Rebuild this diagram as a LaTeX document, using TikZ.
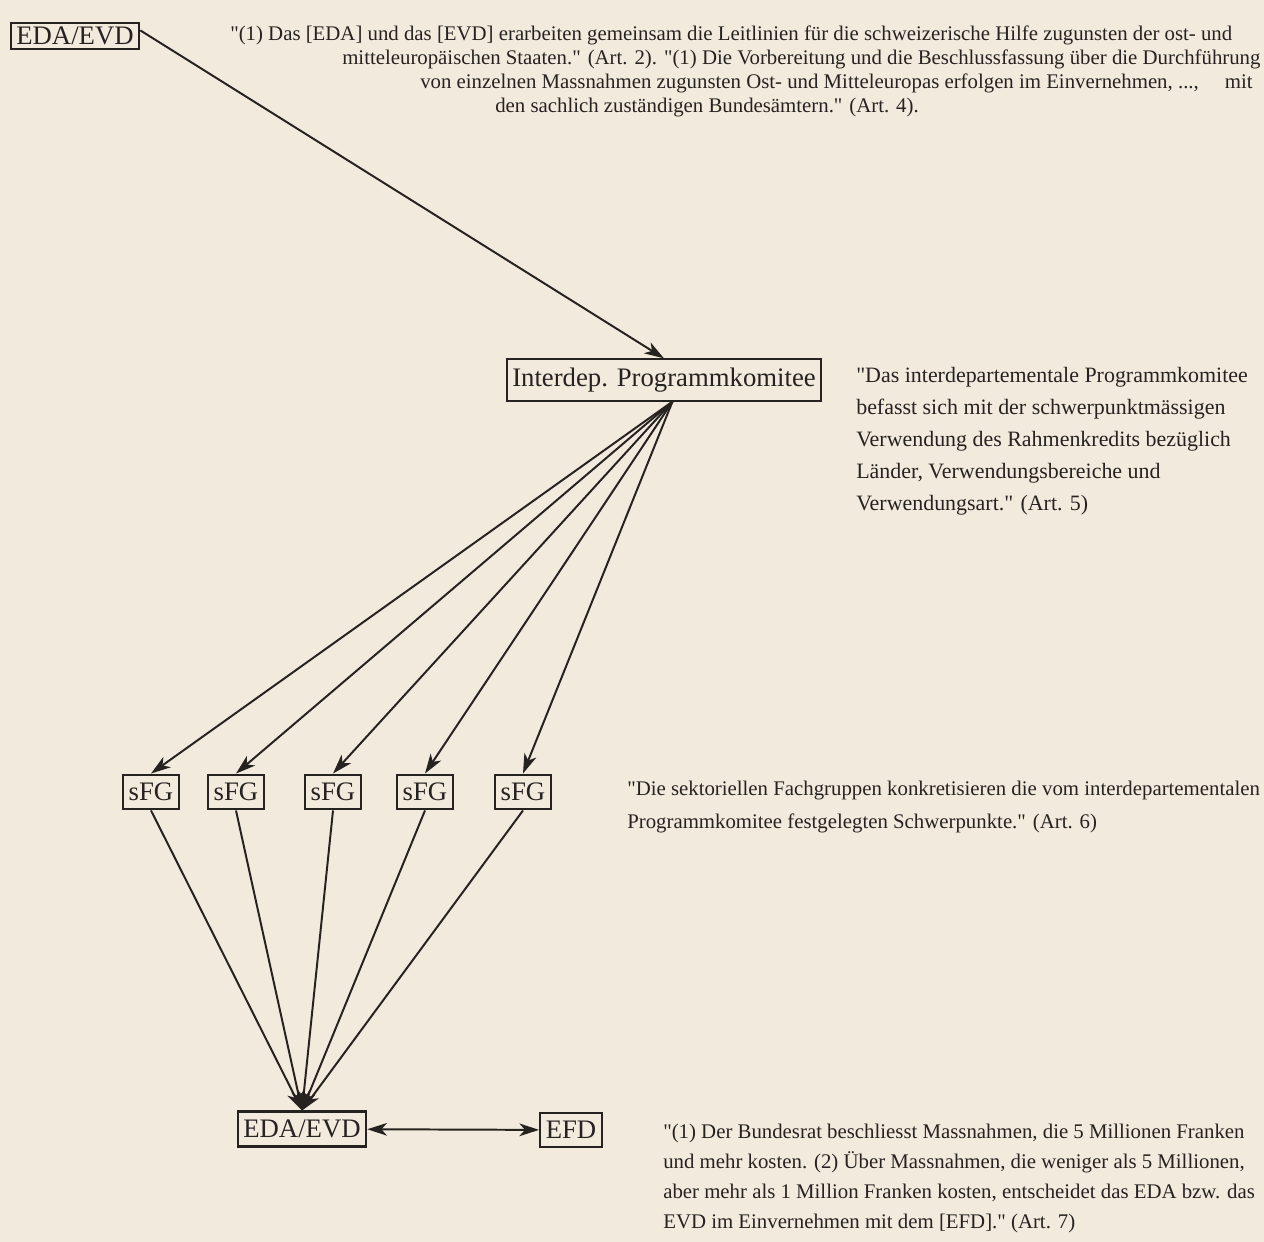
\documentclass[tikz,border=0pt]{standalone}
\usepackage{fontspec}
\setmainfont{Liberation Serif}
\usetikzlibrary{arrows.meta,positioning}
\definecolor{paper}{RGB}{241,234,221}
\definecolor{ink}{RGB}{38,34,32}

\begin{document}
\begin{tikzpicture}[
  x=0.025cm, y=-0.025cm,
  every node/.style={text=ink},
  orgbox/.style={draw=ink,line width=1.5pt,inner xsep=4pt,inner ysep=6pt,
                 font=\fontsize{19}{21}\selectfont},
  quote/.style={align=left,inner sep=0pt,anchor=north west},
  link/.style={-{Stealth[length=14pt,width=9pt,inset=4pt]},ink,line width=1.4pt},
]
  % paper
  \fill[paper] (0,0) rectangle (1264,1242);
  \useasboundingbox (0,0) rectangle (1264,1242);

  % Top: EDA/EVD
  \node[orgbox,inner ysep=3pt] (eda1) at (75,36) {EDA/EVD};
  \node[quote,anchor=base west,font=\fontsize{14.8}{17}\selectfont] (art2a) at (230,41)
    {\textquotedbl(1) Das [EDA] und das [EVD] erarbeiten gemeinsam die Leitlinien für die schweizerische Hilfe zugunsten der ost- und};
  \node[quote,anchor=base west,font=\fontsize{14.8}{17}\selectfont] (art2b) at (342,65)
    {mitteleuropäischen Staaten.\textquotedbl{} (Art. 2). \textquotedbl(1) Die Vorbereitung und die Beschlussfassung über die Durchführung};
  \node[quote,anchor=base west,font=\fontsize{14.8}{17}\selectfont] (art2c) at (420,89)
    {von einzelnen Massnahmen zugunsten Ost- und Mitteleuropas erfolgen im Einvernehmen, ..., \quad mit};
  \node[quote,anchor=base west,font=\fontsize{14.8}{17}\selectfont] (art2d) at (495,113)
    {den sachlich zuständigen Bundesämtern.\textquotedbl{} (Art. 4).};

  % Interdepartementales Programmkomitee
  \node[orgbox] (ipk) at (664,380) {Interdep. Programmkomitee};
  \node[quote,font=\fontsize{15.6}{22.8}\selectfont] (art5) at (856,367)
    {\textquotedbl Das interdepartementale Programmkomitee\\
     befasst sich mit der schwerpunktmässigen\\
     Verwendung des Rahmenkredits bezüglich\\
     Länder, Verwendungsbereiche und\\
     Verwendungsart.\textquotedbl{} (Art. 5)};

  % sektorielle Fachgruppen
  \node[orgbox] (sfg1) at (151,792) {sFG};
  \node[orgbox] (sfg2) at (236,792) {sFG};
  \node[orgbox] (sfg3) at (333,792) {sFG};
  \node[orgbox] (sfg4) at (425,792) {sFG};
  \node[orgbox] (sfg5) at (523,792) {sFG};
  \node[quote,font=\fontsize{14.8}{23.5}\selectfont] (art6) at (627,781)
    {\textquotedbl Die sektoriellen Fachgruppen konkretisieren die vom interdepartementalen\\
     Programmkomitee festgelegten Schwerpunkte.\textquotedbl{} (Art. 6)};

  % Bottom: EDA/EVD and EFD
  \node[orgbox] (eda2) at (302,1129) {EDA/EVD};
  \node[orgbox] (efd) at (571,1130) {EFD};
  \node[quote,font=\fontsize{14.8}{21.3}\selectfont] (art7) at (663,1124)
    {\textquotedbl(1) Der Bundesrat beschliesst Massnahmen, die 5 Millionen Franken\\
     und mehr kosten. (2) Über Massnahmen, die weniger als 5 Millionen,\\
     aber mehr als 1 Million Franken kosten, entscheidet das EDA bzw. das\\
     EVD im Einvernehmen mit dem [EFD].\textquotedbl{} (Art. 7)};

  % connectors
  \coordinate (hub) at ([xshift=6pt]ipk.south);
  \draw[link] ([yshift=4pt]eda1.east) -- (ipk.north);
  \draw[link] (hub) -- (sfg1.north);
  \draw[link] (hub) -- (sfg2.north);
  \draw[link] (hub) -- (sfg3.north);
  \draw[link] (hub) -- (sfg4.north);
  \draw[link] (hub) -- (sfg5.north);
  \draw[link] (sfg1.south) -- (eda2.north);
  \draw[link] (sfg2.south) -- (eda2.north);
  \draw[link] (sfg3.south) -- (eda2.north);
  \draw[link] (sfg4.south) -- (eda2.north);
  \draw[link] (sfg5.south) -- (eda2.north);
  \draw[link,{Stealth[length=14pt,width=9pt,inset=4pt]}-{Stealth[length=14pt,width=9pt,inset=4pt]}] (eda2) -- (efd);
\end{tikzpicture}
\end{document}
